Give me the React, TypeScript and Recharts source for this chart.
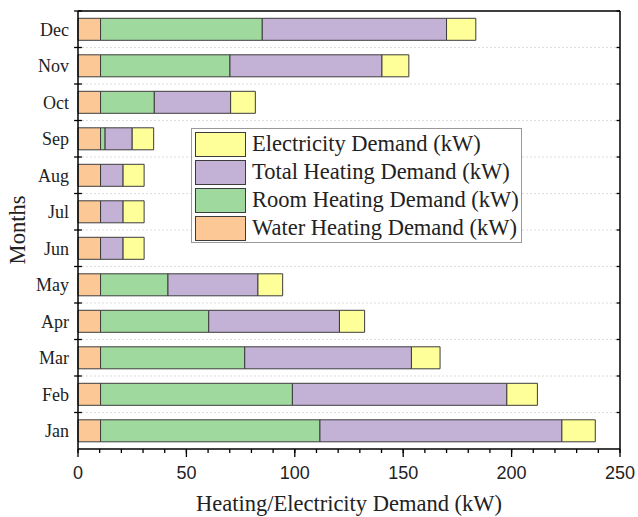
import React from 'react';
import { BarChart, Bar, XAxis, YAxis, Label, ReferenceLine } from 'recharts';

const months = ['Jan', 'Feb', 'Mar', 'Apr', 'May', 'Jun', 'Jul', 'Aug', 'Sep', 'Oct', 'Nov', 'Dec'];
const waterHeating = [10.4, 10.4, 10.4, 10.4, 10.4, 10.4, 10.4, 10.4, 10.4, 10.4, 10.4, 10.4];
const roomHeating = [101.2, 88.5, 66.5, 49.9, 31.1, 0, 0, 0, 2.1, 24.8, 59.7, 74.6];
const totalHeating = [111.6, 98.9, 76.9, 60.3, 41.5, 10.4, 10.4, 10.4, 12.5, 35.2, 70.1, 85.0];
const electricityDemand = [15.4, 14.1, 13.2, 11.6, 11.4, 9.7, 9.7, 9.7, 9.9, 11.4, 12.4, 13.5];

const xTicks = [0, 10, 20, 30, 40, 50, 60, 70, 80, 90, 100, 110, 120, 130, 140, 150, 160, 170, 180, 190, 200, 210, 220, 230, 240, 250];

const data = months.map((month, i) => ({
  month,
  water: waterHeating[i],
  room: roomHeating[i],
  total: totalHeating[i],
  elec: electricityDemand[i],
}));

// stacking order left -> right
const series = [
  { key: 'water', name: 'Water Heating Demand (kW)', color: '#FCC896' },
  { key: 'room', name: 'Room Heating Demand (kW)', color: '#9FD99D' },
  { key: 'total', name: 'Total Heating Demand (kW)', color: '#C3B1D6' },
  { key: 'elec', name: 'Electricity Demand (kW)', color: '#FFFF99' },
];

const tickStroke = { stroke: '#000', strokeWidth: 1.3 };
const X_TICK = 4;
const X_MARGIN = 13;

// labels only on the 50s, minor ticks come from the built-in tick lines
const XTick = (props: any) => {
  const { x, y, payload } = props;
  if (payload.value % 50 !== 0) return <g />;
  const axisY = y - X_TICK - X_MARGIN;
  return (
    <g>
      <path d={`M${x},${axisY}V${axisY + 8}`} stroke="#000" strokeWidth={1.3} />
      <text x={x} y={y} dy="0.71em" textAnchor="middle" fontSize={18} fontFamily="Liberation Sans" fill="#222">
        {payload.value}
      </text>
    </g>
  );
};

export default function App() {
  return (
    <div style={{ position: 'relative', width: 638, height: 517, fontFamily: 'Liberation Serif' }}>
      <style>{'body{margin:0}'}</style>
      <BarChart
        width={638}
        height={517}
        data={data}
        layout="vertical"
        barCategoryGap="20%"
        margin={{ top: 11, right: 18, left: 0, bottom: 0 }}
      >
        {/* dashed grid on the band edges */}
        {months.map((m) => (
          <ReferenceLine key={`g${m}`} yAxisId="cat" y={m} position="start" stroke="#dcdcdc" strokeDasharray="2 2" />
        ))}
        <XAxis
          type="number"
          domain={[0, 250]}
          ticks={xTicks}
          interval={0}
          height={68}
          tickSize={X_TICK}
          tickMargin={X_MARGIN}
          tickLine={tickStroke}
          axisLine={{ stroke: '#000', strokeWidth: 1.5 }}
          tick={<XTick />}
        >
          <Label
            content={({ viewBox }: any) => (
              <text
                x={viewBox.x + viewBox.width / 2}
                y={viewBox.y + 62}
                textAnchor="middle"
                fontSize={22.5}
                fontFamily="Liberation Serif"
                fill="#222"
              >
                Heating/Electricity Demand (kW)
              </text>
            )}
          />
        </XAxis>
        <YAxis
          yAxisId="cat"
          type="category"
          dataKey="month"
          reversed
          width={78}
          tickSize={0}
          tickMargin={9}
          tickLine={false}
          axisLine={{ stroke: '#000', strokeWidth: 1.5 }}
          tick={{ fontSize: 18, fill: '#222', fontFamily: 'Liberation Serif' }}
        >
          <Label
            content={({ viewBox }: any) => {
              const cx = 25;
              const cy = viewBox.y + viewBox.height / 2;
              return (
                <text
                  x={cx}
                  y={cy}
                  transform={`rotate(-90 ${cx} ${cy})`}
                  textAnchor="middle"
                  fontSize={22.5}
                  fontFamily="Liberation Serif"
                  fill="#222"
                >
                  Months
                </text>
              );
            }}
          />
        </YAxis>
        {series.map((s) => (
          <Bar
            key={s.key}
            dataKey={s.key}
            name={s.name}
            yAxisId="cat"
            stackId="a"
            fill={s.color}
            stroke="#3c3c3c"
            strokeWidth={1}
            isAnimationActive={false}
          />
        ))}
        {/* band edge ticks: crossing on the left, inward on the right */}
        {months.map((m) => (
          <ReferenceLine
            key={`l${m}`}
            yAxisId="cat"
            position="start"
            segment={[{ x: -1.8, y: m }, { x: 1.8, y: m }]}
            ifOverflow="visible"
            {...tickStroke}
          />
        ))}
        {months.map((m) => (
          <ReferenceLine
            key={`r${m}`}
            yAxisId="cat"
            position="start"
            segment={[{ x: 248.4, y: m }, { x: 250, y: m }]}
            ifOverflow="visible"
            {...tickStroke}
          />
        ))}
        {/* top and right frame */}
        <ReferenceLine yAxisId="cat" x={250} stroke="#000" strokeWidth={1.5} />
        <ReferenceLine yAxisId="cat" y="Dec" position="start" stroke="#000" strokeWidth={1.5} />
      </BarChart>
      <div
        style={{
          position: 'absolute',
          left: 191,
          top: 128,
          width: 329,
          height: 113,
          border: '1px solid #999',
          background: '#fff',
          boxSizing: 'content-box',
        }}
      >
        {[...series].reverse().map((s, i) => (
          <div
            key={s.key}
            style={{ position: 'absolute', left: 3, top: 3 + i * 28, height: 24, display: 'flex', alignItems: 'center' }}
          >
            <div style={{ width: 49, height: 23, background: s.color, border: '1px solid #3c3c3c' }} />
            <span style={{ marginLeft: 6, fontSize: 22.5, color: '#222', whiteSpace: 'nowrap' }}>{s.name}</span>
          </div>
        ))}
      </div>
    </div>
  );
}
